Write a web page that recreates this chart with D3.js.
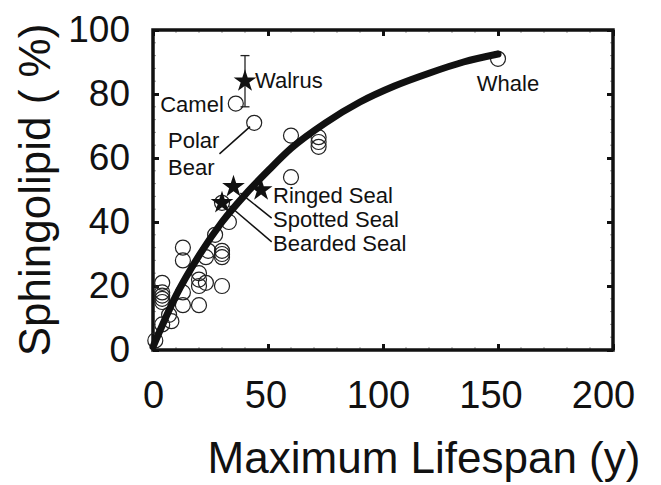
<!DOCTYPE html>
<html><head><meta charset="utf-8">
<script src="https://cdn.jsdelivr.net/npm/d3@7"></script>
<style>body{margin:0;background:#fff} svg{display:block}</style>
</head><body>
<svg id="c" width="661" height="485"></svg>
<script>
// ---- data ----
const circleX = [1,4,4,4,4,4,4,7,8,13,13,13,13,20,20,20,20,23,24,23,30,30,30,30,27,33,30,60,60,72,72,72,36,44,150];
const circleY = [3,21,18,17,16,15,8,11,9,32,28,18,14,14,24,22,20,21,31,29,31,30,29,20,36,40,46,54,67,66.5,65,63.5,77,71,91];
const circleLabels = ["Camel","Polar Bear","Whale"];
const circleLabelX = [36,44,150];
const circleLabelY = [77,71,91];
const starNames = ["Ringed Seal","Spotted Seal","Bearded Seal","Walrus"];
const starX = [47,35,30,40];
const starY = [50,51,46,84];
const walrusErr = 8;
const fitX = [0,10,20,30,40,50,60,75,90,105,120,135,150];
const fitY = [1,17,29.5,40,48.5,56,63,71,77.5,82.5,86.5,90,92.5];
const xTicks = [0,50,100,150,200];
const yTicks = [0,20,40,60,80,100];
const xMinor = d3.range(0,201,10);
const yMinor = d3.range(0,101,4);

// ---- layout ----
const L=153, R=613, T=30, B=350;
const svg = d3.select("#c");
const font = "'Liberation Sans', Arial, sans-serif";
const x = d3.scaleLinear().domain([0,200]).range([L,R]);
const y = d3.scaleLinear().domain([0,100]).range([B,T]);

// minor ticks
const g = svg.append("g");
g.selectAll(".mxb").data(xMinor).join("line")
  .attr("x1",d=>x(d)).attr("x2",d=>x(d)).attr("y1",B).attr("y2",B-3)
  .attr("stroke","#999").attr("stroke-width",1);
g.selectAll(".mxt").data(xMinor).join("line")
  .attr("x1",d=>x(d)).attr("x2",d=>x(d)).attr("y1",T).attr("y2",T+3)
  .attr("stroke","#999").attr("stroke-width",1);
g.selectAll(".myl").data(yMinor).join("line")
  .attr("y1",d=>y(d)).attr("y2",d=>y(d)).attr("x1",L).attr("x2",L+3)
  .attr("stroke","#999").attr("stroke-width",1);
g.selectAll(".myr").data(yMinor).join("line")
  .attr("y1",d=>y(d)).attr("y2",d=>y(d)).attr("x1",R).attr("x2",R-3)
  .attr("stroke","#999").attr("stroke-width",1);

// major ticks via axes (inward)
function styleAxis(sel){ sel.select(".domain").remove(); sel.selectAll("line").attr("stroke","#111").attr("stroke-width",3); }
svg.append("g").attr("transform",`translate(0,${B})`)
  .call(d3.axisBottom(x).tickValues(xTicks).tickSizeInner(-6).tickSizeOuter(0).tickPadding(31))
  .call(styleAxis)
  .call(s=>s.selectAll("text").attr("font-family",font).attr("font-size",38).attr("fill","#111")
    .attr("dx",d=>-d*0.05));
svg.append("g").attr("transform",`translate(0,${T})`)
  .call(d3.axisTop(x).tickValues(xTicks).tickSizeInner(-6).tickSizeOuter(0).tickFormat(""))
  .call(styleAxis);
svg.append("g").attr("transform",`translate(${L},0)`)
  .call(d3.axisLeft(y).tickValues(yTicks).tickSizeInner(-6).tickSizeOuter(0).tickPadding(23))
  .call(styleAxis)
  .call(s=>s.selectAll("text").attr("font-family",font).attr("font-size",37).attr("fill","#111"));
svg.append("g").attr("transform",`translate(${R},0)`)
  .call(d3.axisRight(y).tickValues(yTicks).tickSizeInner(-6).tickSizeOuter(0).tickFormat(""))
  .call(styleAxis);

// frame
svg.append("rect").attr("x",L).attr("y",T).attr("width",R-L).attr("height",B-T)
  .attr("fill","none").attr("stroke","#111").attr("stroke-width",3.5);

// circles
svg.append("g").selectAll("circle").data(circleX.map((v,i)=>[v,circleY[i]])).join("circle")
  .attr("cx",d=>x(d[0])).attr("cy",d=>y(d[1])).attr("r",7.5)
  .attr("fill","none").attr("stroke","#222").attr("stroke-width",1.2);

// fit curve
svg.append("path").datum(fitX.map((v,i)=>[v,fitY[i]]))
  .attr("d",d3.line().x(d=>x(d[0])).y(d=>y(d[1])).curve(d3.curveMonotoneX))
  .attr("fill","none").attr("stroke","#111").attr("stroke-width",7).attr("stroke-linecap","round");

// walrus error bar
const wi = starNames.indexOf("Walrus");
const wx = x(starX[wi]);
const eb = svg.append("g").attr("stroke","#222").attr("stroke-width",1.3);
eb.append("line").attr("x1",wx).attr("x2",wx).attr("y1",y(starY[wi]-walrusErr)).attr("y2",y(starY[wi]+walrusErr));
eb.append("line").attr("x1",wx-4.5).attr("x2",wx+4.5).attr("y1",y(starY[wi]-walrusErr)).attr("y2",y(starY[wi]-walrusErr));
eb.append("line").attr("x1",wx-4.5).attr("x2",wx+4.5).attr("y1",y(starY[wi]+walrusErr)).attr("y2",y(starY[wi]+walrusErr));

// stars
svg.append("g").selectAll("path").data(starX.map((v,i)=>[v,starY[i]])).join("path")
  .attr("transform",d=>`translate(${x(d[0])},${y(d[1])})`)
  .attr("d",d3.symbol(d3.symbolStar,160)).attr("fill","#111");

// leader lines (data coordinates)
const leaders = [
  [[28.9,61.3],[42.2,69.8]],
  [[38.0,49.0],[51.6,41.2]],
  [[33.3,45.0],[51.6,33.8]]
];
svg.append("g").selectAll("line").data(leaders).join("line")
  .attr("x1",d=>x(d[0][0])).attr("y1",d=>y(d[0][1]))
  .attr("x2",d=>x(d[1][0])).attr("y2",d=>y(d[1][1]))
  .attr("stroke","#111").attr("stroke-width",1.5);

// annotation labels
const ann = svg.append("g").attr("font-family",font).attr("font-size",22).attr("fill","#111");
const ci = n => circleLabels.indexOf(n);
ann.append("text").attr("x",x(circleLabelX[ci("Camel")])-12).attr("y",y(circleLabelY[ci("Camel")])+8)
  .attr("text-anchor","end").text("Camel");
const pb = ann.append("text").attr("x",168).attr("y",148);
pb.append("tspan").attr("x",168).text("Polar");
pb.append("tspan").attr("x",168).attr("y",175).text("Bear");
ann.append("text").attr("x",x(circleLabelX[ci("Whale")])+10).attr("y",y(circleLabelY[ci("Whale")])+32)
  .attr("text-anchor","middle").text("Whale");
ann.append("text").attr("x",wx+10).attr("y",y(starY[wi])+7).text("Walrus");
ann.append("text").attr("x",273).attr("y",203).text("Ringed Seal");
ann.append("text").attr("x",273).attr("y",227).text("Spotted Seal");
ann.append("text").attr("x",273).attr("y",251).text("Bearded Seal");

// axis titles
svg.append("text").attr("x",424).attr("y",473).attr("text-anchor","middle")
  .attr("font-family",font).attr("font-size",44).attr("fill","#111").text("Maximum Lifespan (y)");
svg.append("text").attr("transform","translate(50,190) rotate(-90)").attr("text-anchor","middle")
  .attr("font-family",font).attr("font-size",44).attr("fill","#111").text("Sphingolipid ( %)");
</script>
</body></html>
